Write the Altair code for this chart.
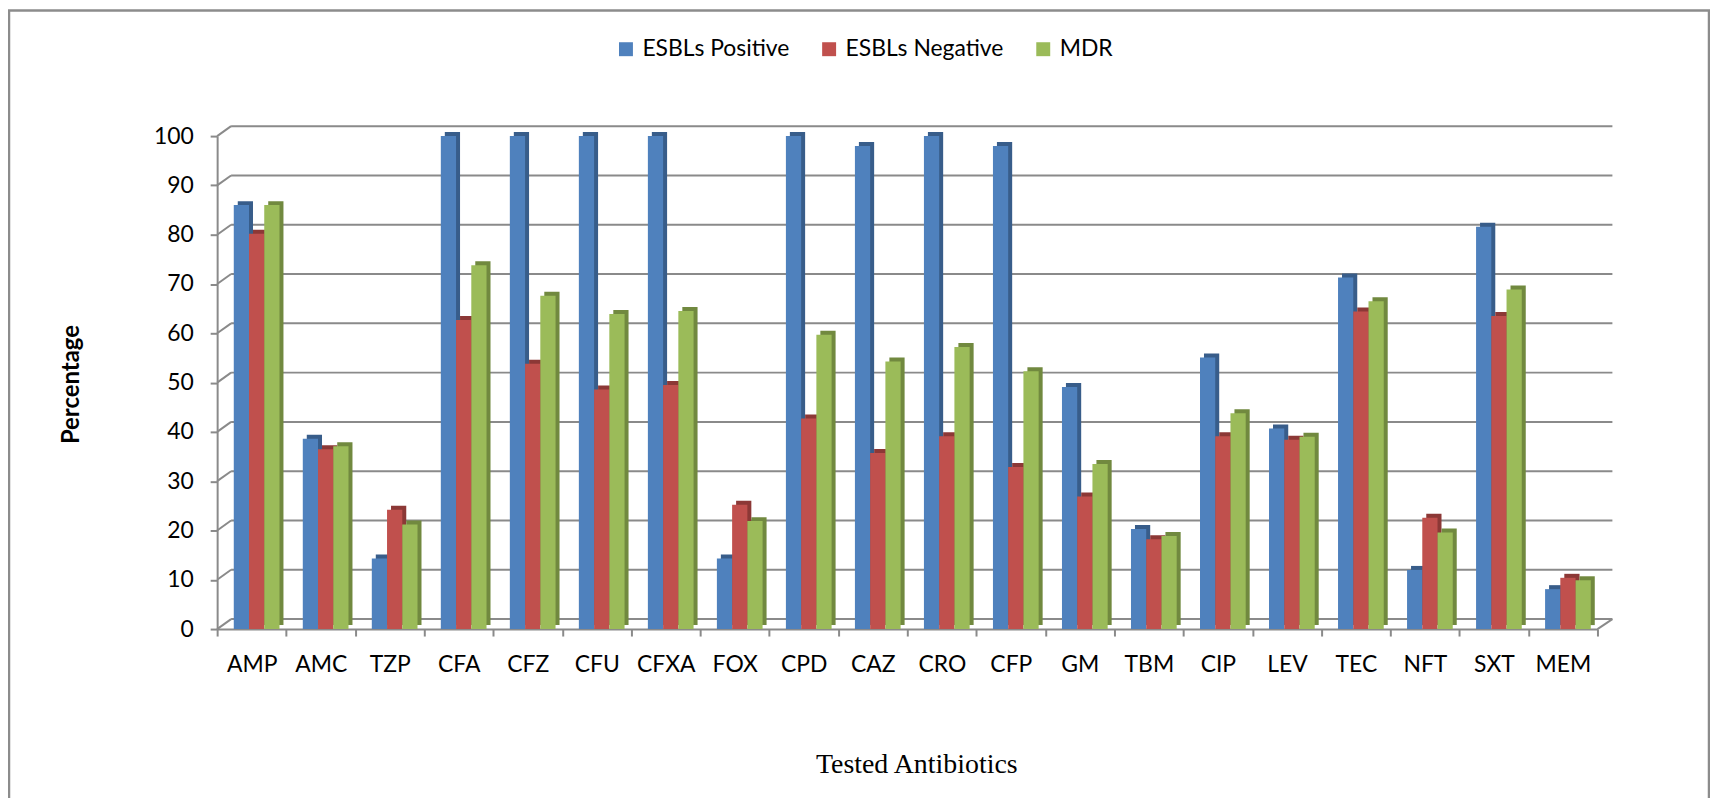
import altair as alt
import pandas as pd

antibiotics = ["AMP", "AMC", "TZP", "CFA", "CFZ", "CFU", "CFXA", "FOX", "CPD", "CAZ",
               "CRO", "CFP", "GM", "TBM", "CIP", "LEV", "TEC", "NFT", "SXT", "MEM"]
esbl_pos = [86, 38.6, 14.3, 100, 100, 100, 100, 14.3, 100, 98,
            100, 98, 49.1, 20.3, 55.1, 40.7, 71.3, 12.0, 81.6, 8.1]
esbl_neg = [80.2, 36.5, 24.2, 62.7, 53.8, 48.6, 49.5, 25.2, 42.7, 35.7,
            39.1, 32.9, 26.9, 18.2, 39.1, 38.4, 64.4, 22.6, 63.5, 10.4]
mdr = [86, 37.1, 21.2, 73.8, 67.6, 63.9, 64.5, 21.9, 59.7, 54.3,
       57.2, 52.3, 33.5, 18.9, 43.8, 39.0, 66.5, 19.6, 68.9, 9.9]
series = ["ESBLs Positive", "ESBLs Negative", "MDR"]
front_colors = ["#4F81BD", "#C0504D", "#9BBB59"]
side_colors = ["#385D8A", "#8C3836", "#71893F"]
y_ticks = [0, 10, 20, 30, 40, 50, 60, 70, 80, 90, 100]

rows = []
for name, vals in zip(series, [esbl_pos, esbl_neg, mdr]):
    for ab, v in zip(antibiotics, vals):
        rows.append({"antibiotic": ab, "series": name, "value": v})
df = pd.DataFrame(rows)
ticks_df = pd.DataFrame({"tick": y_ticks})
floor_df = pd.DataFrame({"tick": [0]})
one_df = pd.DataFrame({"a": [0]})

W, H = 1386, 495
STEP = W / len(antibiotics)
DX, DY = 14, -10
GRID = "#8A8A8A"
FONT = "Lato"

y_axis = alt.Axis(values=y_ticks, grid=False, labelFont=FONT, labelFontSize=23,
                  labelColor="#000000", labelPadding=17, tickSize=7, tickWidth=2,
                  tickColor=GRID, domainColor=GRID, domainWidth=2,
                  title="Percentage", titleFont=FONT, titleFontSize=24,
                  titleFontWeight="bold", titleColor="#000000", titleAngle=-90,
                  titleAlign="center", titleBaseline="middle",
                  titleX=-146, titleY=249)
y_scale = alt.Scale(domain=[0, 100], nice=False, zero=True)

x_enc = alt.X("antibiotic:N", sort=antibiotics,
              scale=alt.Scale(paddingInner=0, paddingOuter=0),
              axis=alt.Axis(labelAngle=0, labelFont=FONT, labelFontSize=23,
                            labelColor="#000000", labelPadding=18, tickSize=7,
                            tickWidth=2, tickColor=GRID, tickBand="extent",
                            domainColor=GRID, domainWidth=2,
                            title="Tested Antibiotics", titleFont="Liberation Serif",
                            titleFontSize=28, titleFontWeight="normal",
                            titleColor="#000000", titleAlign="center",
                            titleBaseline="middle", titleX=702, titleY=136))


def xoff(shift):
    return alt.XOffset("series:N", sort=series,
                       scale=alt.Scale(domain=series, paddingInner=0, paddingOuter=0.765,
                                       range=[shift, STEP + shift]))


grid_back = alt.Chart(ticks_df).mark_rule(color=GRID, strokeWidth=2, yOffset=DY).encode(
    y=alt.Y("tick:Q", scale=y_scale, axis=y_axis),
    x=alt.value(DX), x2=alt.value(W + DX + 1),
)
grid_diag = alt.Chart(ticks_df).mark_rule(color=GRID, strokeWidth=2, y2Offset=DY).encode(
    y=alt.Y("tick:Q", scale=y_scale, axis=y_axis), y2="tick:Q",
    x=alt.value(0), x2=alt.value(DX),
)
floor_diag = alt.Chart(floor_df).mark_rule(color=GRID, strokeWidth=2, y2Offset=DY).encode(
    y=alt.Y("tick:Q", scale=y_scale, axis=y_axis), y2="tick:Q",
    x=alt.value(W), x2=alt.value(W + DX + 1),
)

back_bars = alt.Chart(df).mark_bar(yOffset=-4, clip=False).encode(
    x=x_enc, xOffset=xoff(9),
    y=alt.Y("value:Q", scale=y_scale, axis=y_axis),
    color=alt.Color("series:N", sort=series,
                    scale=alt.Scale(domain=series, range=side_colors), legend=None),
)
front_bars = alt.Chart(df).mark_bar().encode(
    x=x_enc, xOffset=xoff(5),
    y=alt.Y("value:Q", scale=y_scale, axis=y_axis),
    color=alt.Color("series:N", sort=series,
                    scale=alt.Scale(domain=series, range=front_colors),
                    legend=alt.Legend(title=None, orient="none", direction="horizontal",
                                      legendX=399, legendY=-99, symbolType="square",
                                      symbolSize=196, symbolStrokeWidth=0,
                                      labelFont=FONT, labelFontSize=23,
                                      labelColor="#000000", labelOffset=5,
                                      columnPadding=28)),
)

border = alt.Chart(one_df).mark_rect(fill=None, stroke="#8C8C8C", strokeWidth=2.5,
                                     clip=False).encode(
    x=alt.value(-209), x2=alt.value(1498),
    y=alt.value(-126), y2=alt.value(H + 230),
)

chart = alt.layer(border, grid_back, grid_diag, floor_diag, back_bars, front_bars).resolve_scale(
    color="independent", xOffset="independent"
).properties(
    width=W, height=H,
    autosize=alt.AutoSizeParams(type="none"),
    padding={"left": 210, "top": 127, "right": 113, "bottom": 168},
    background="#FFFFFF",
).configure_view(stroke=None)

chart.save("out.html", embed_options={"renderer": "svg", "actions": False})
